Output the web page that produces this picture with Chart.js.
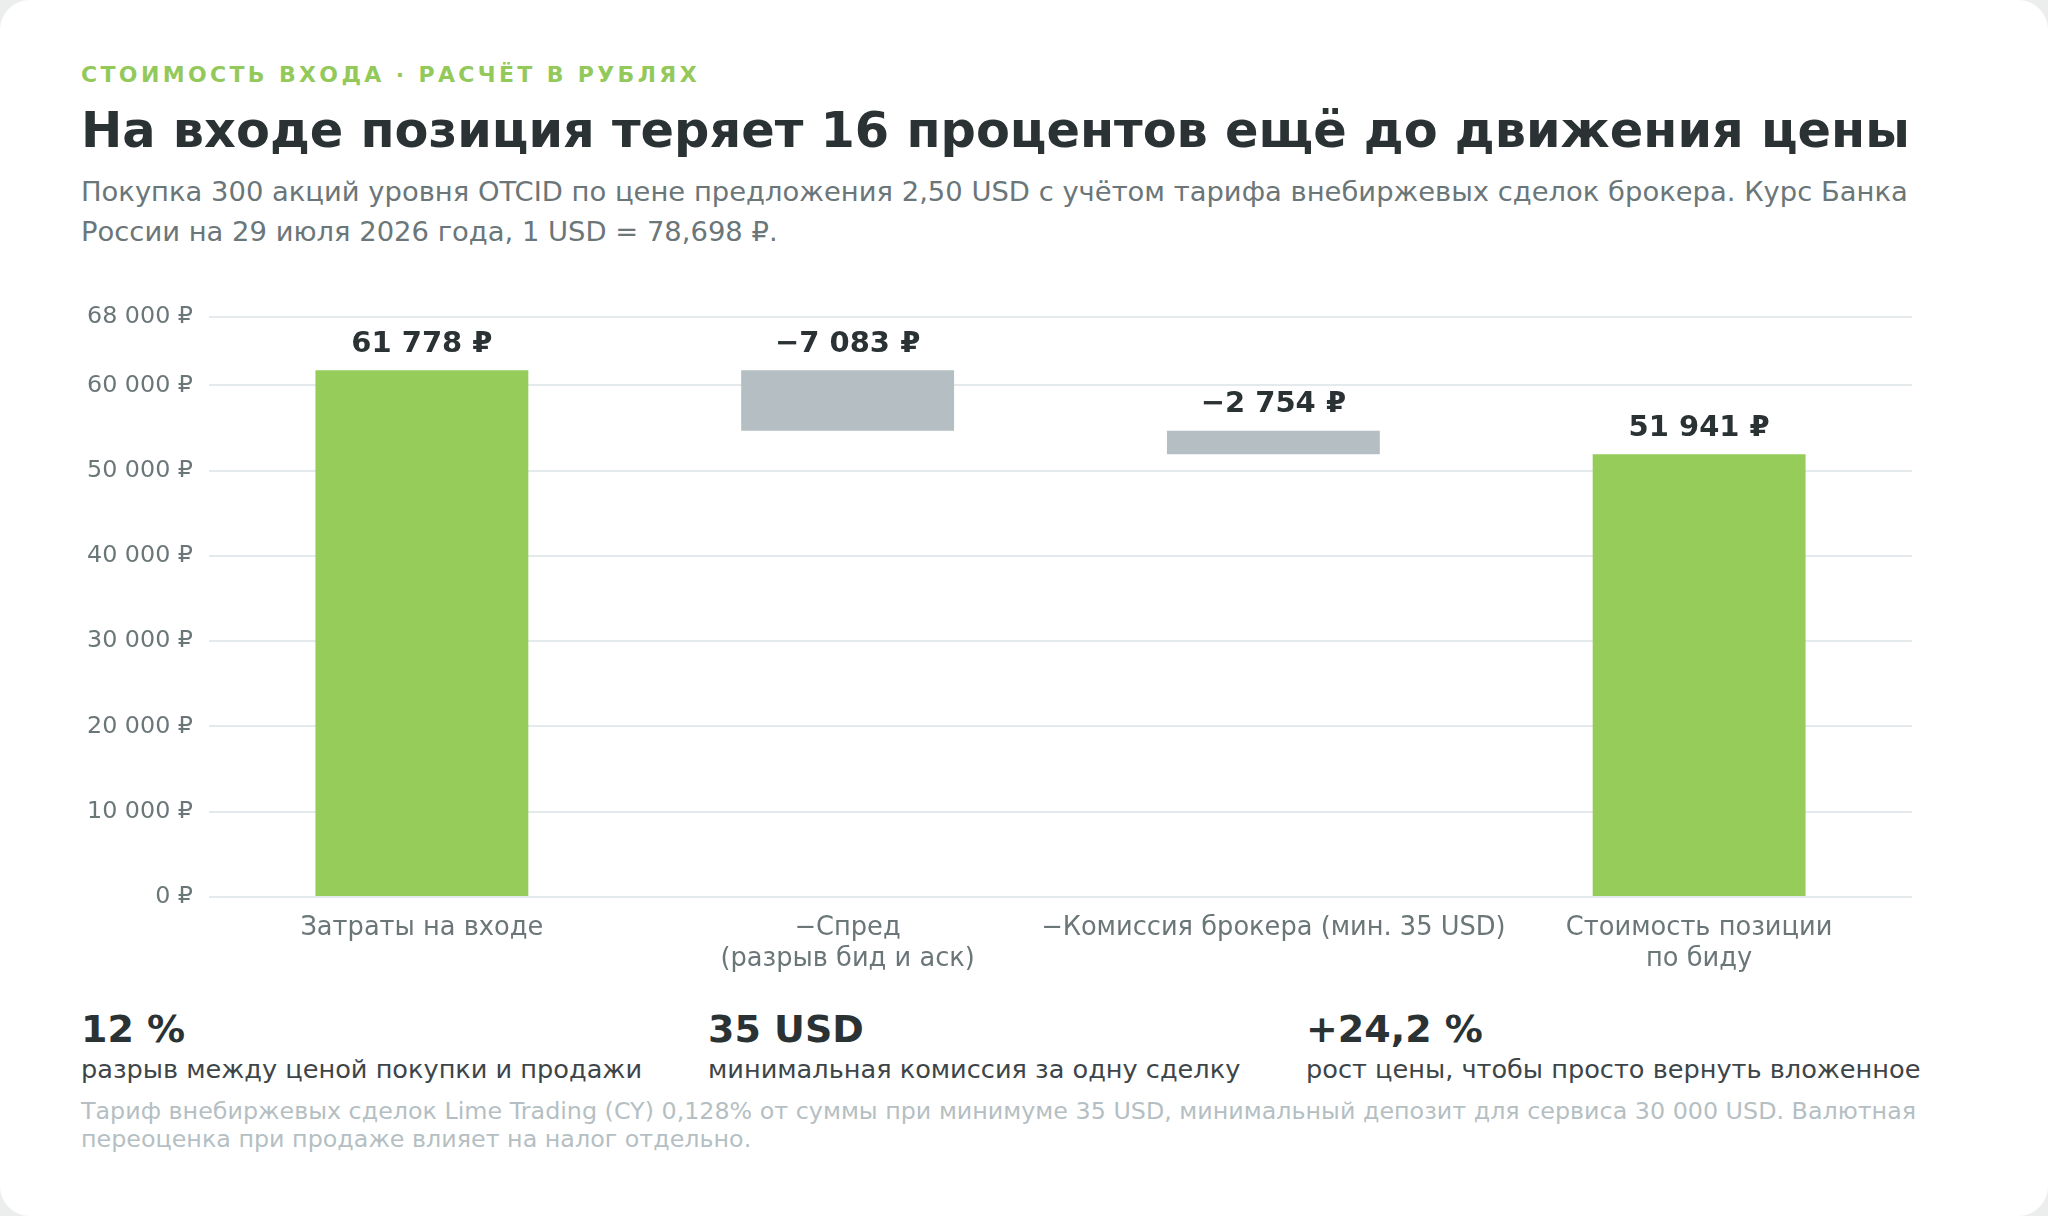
<!DOCTYPE html>
<html lang="ru">
<head>
<meta charset="utf-8">
<title>Стоимость входа</title>
<script src="https://cdn.jsdelivr.net/npm/chart.js@4/dist/chart.umd.min.js"></script>
<style>
  html, body { margin: 0; padding: 0; background: #eceeee; }
  body { width: 2048px; height: 1216px; overflow: hidden; font-family: "DejaVu Sans", sans-serif; }
  .card { position: relative; width: 2048px; height: 1216px; background: #fff; border-radius: 30px; }
  .abs { position: absolute; left: 81px; white-space: nowrap; }
  .eyebrow { top: 60px; font-size: 22px; line-height: 30px; font-weight: bold; letter-spacing: 3.35px; color: #93c95a; }
  .title { top: 100px; font-size: 49.4px; line-height: 60px; font-weight: bold; color: #2b3234; }
  .sub { top: 172px; font-size: 27.4px; line-height: 40px; color: #6b7679; }
  .chart { position: absolute; left: 81px; top: 287px; width: 1831px; height: 693px; }
  .stat { position: absolute; top: 1004px; }
  .stat b { display: block; font-size: 38px; line-height: 50px; color: #2b3234; }
  .stat span { display: block; font-size: 25.6px; line-height: 30px; color: #3d4548; }
  .note { top: 1097px; font-size: 23.8px; line-height: 28px; color: #b5bfc3; white-space: normal; width: 1845px; }
</style>
</head>
<body>
<div class="card">
  <div class="abs eyebrow">СТОИМОСТЬ ВХОДА · РАСЧЁТ В РУБЛЯХ</div>
  <div class="abs title">На входе позиция теряет 16 процентов ещё до движения цены</div>
  <div class="abs sub">Покупка 300 акций уровня OTCID по цене предложения 2,50 USD с учётом тарифа внебиржевых сделок брокера. Курс Банка<br>России на 29 июля 2026 года, 1 USD = 78,698 ₽.</div>
  <div class="chart"><canvas id="waterfall"></canvas></div>
  <div class="stat" style="left:81px"><b>12 %</b><span>разрыв между ценой покупки и продажи</span></div>
  <div class="stat" style="left:708px"><b>35 USD</b><span>минимальная комиссия за одну сделку</span></div>
  <div class="stat" style="left:1306px"><b>+24,2 %</b><span>рост цены, чтобы просто вернуть вложенное</span></div>
  <div class="abs note">Тариф внебиржевых сделок Lime Trading (CY) 0,128% от суммы при минимуме 35 USD, минимальный депозит для сервиса 30 000 USD. Валютная переоценка при продаже влияет на налог отдельно.</div>
</div>
<script>
// Данные каскада, ₽
const categories = [
  "Затраты на входе",
  ["−Спред", "(разрыв бид и аск)"],
  "−Комиссия брокера (мин. 35 USD)",
  ["Стоимость позиции", "по биду"]
];
const amounts = [61778, -7083, -2754, 51941];
const isTotal = [true, false, false, true];
const yTicks = [0, 10000, 20000, 30000, 40000, 50000, 60000, 68000];

const GREEN = "#96cd5a";
const GREY = "#b4bec3";

// строим плавающие отрезки [начало, конец]
const ranges = [];
let running = 0;
amounts.forEach((v, i) => {
  if (isTotal[i]) {
    ranges.push([0, v]);
    running = v;
  } else {
    ranges.push([running, running + v]);
    running += v;
  }
});

const fmt = (v) => {
  const s = Math.abs(v).toString().replace(/\B(?=(\d{3})+(?!\d))/g, " ");
  return (v < 0 ? "−" : "") + s + " ₽";
};

const valueLabels = {
  id: "valueLabels",
  afterDatasetsDraw(chart) {
    const { ctx } = chart;
    const meta = chart.getDatasetMeta(0);
    ctx.save();
    ctx.font = "bold 29px 'DejaVu Sans'";
    ctx.fillStyle = "#2b3234";
    ctx.textAlign = "center";
    ctx.textBaseline = "middle";
    meta.data.forEach((bar, i) => {
      const top = Math.min(bar.y, bar.base);
      ctx.fillText(fmt(amounts[i]), bar.x, top - 26);
    });
    ctx.restore();
  }
};

const ctx = document.getElementById("waterfall").getContext("2d");
new Chart(ctx, {
  type: "bar",
  data: {
    labels: categories,
    datasets: [{
      data: ranges,
      backgroundColor: isTotal.map((t) => (t ? GREEN : GREY)),
      borderWidth: 0,
      categoryPercentage: 1,
      barPercentage: 0.5,
      borderSkipped: false
    }]
  },
  options: {
    responsive: true,
    maintainAspectRatio: false,
    animation: false,
    layout: { padding: { top: 25, right: 0, left: 0, bottom: 0 } },
    plugins: {
      legend: { display: false },
      tooltip: { enabled: false }
    },
    scales: {
      x: {
        grid: { display: false, drawTicks: false },
        border: { display: false },
        ticks: {
          color: "#6b7679",
          font: { family: "DejaVu Sans", size: 25.7 },
          padding: 16,
          maxRotation: 0,
          autoSkip: false
        },
        afterFit(scale) { scale.height = 83; }
      },
      y: {
        min: 0,
        max: 68000,
        grid: { color: "#e4e9eb", lineWidth: 2, drawTicks: false },
        border: { display: false },
        ticks: {
          color: "#6b7679",
          font: { family: "DejaVu Sans", size: 23.8 },
          padding: 16,
          callback: (v) => fmt(v)
        },
        afterBuildTicks(scale) { scale.ticks = yTicks.map((v) => ({ value: v })); },
        afterFit(scale) { scale.width = 128; }
      }
    }
  },
  plugins: [valueLabels]
});
</script>
</body>
</html>
